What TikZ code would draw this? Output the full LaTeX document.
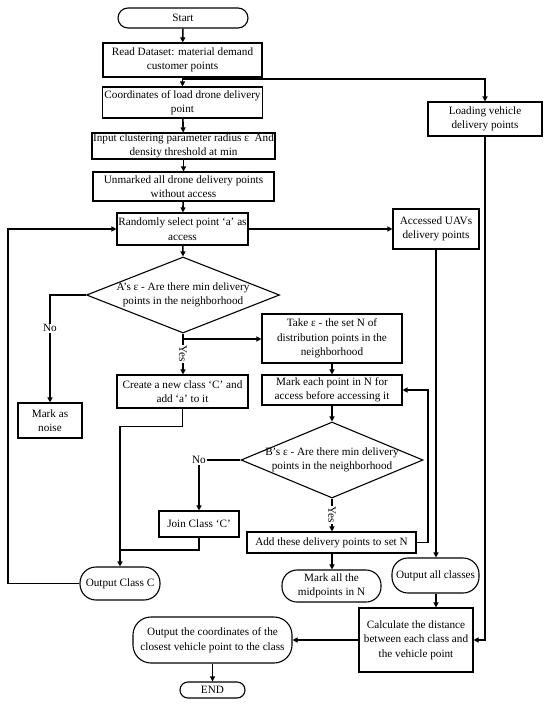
\documentclass[tikz,border=0pt]{standalone}
\usepackage{fontspec}
\setmainfont{Liberation Serif}
\usetikzlibrary{arrows.meta,shapes.geometric,calc}
\begin{document}
\begin{tikzpicture}[x=1pt,y=-1pt,
  every node/.style={font=\fontsize{11.2}{14.5}\selectfont},
  box/.style={draw,line width=1.1pt,inner sep=0pt,align=center},
  term/.style={box,rounded corners=#1},
  dia/.style={draw,line width=1.1pt,diamond,inner sep=0pt},
  conn/.style={line width=1.6pt},
  arr/.style={conn,-{Triangle[length=5pt,width=5pt]}},
  lbl/.style={fill=white,inner sep=1pt}]
\useasboundingbox (0,0) rectangle (550,706);
% nodes
\node[term=10pt,minimum width=130,minimum height=20] (start) at (183,18) {Start};
\node[box,minimum width=159,minimum height=34] (read) at (182.5,60) {Read Dataset: material demand\\customer points};
\node[box,minimum width=160,minimum height=31] (coord) at (182.5,102.5) {Coordinates of load drone delivery\\point};
\node[box,minimum width=183,minimum height=26] (input) at (183.5,146) {Input clustering parameter radius ε\ \ And\\density threshold at min};
\node[box,minimum width=181,minimum height=29] (unm) at (183.5,186.5) {Unmarked all drone delivery points\\without access};
\node[box,minimum width=131,minimum height=32] (rand) at (182.5,229) {Randomly select point ‘a’ as\\access};
\node[box,minimum width=114,minimum height=34] (load) at (485,119) {Loading vehicle\\delivery points};
\node[box,minimum width=86,minimum height=40] (acc) at (436,229) {Accessed UAVs\\delivery points};
\node[dia,minimum width=193,minimum height=76] (dA) at (183,295) {};
\node[align=center] at (183,295) {A’s ε - Are there min delivery\\points in the neighborhood};
\node[box,minimum width=64,minimum height=35] (noise) at (50,420.5) {Mark as\\noise};
\node[box,minimum width=131,minimum height=33] (create) at (182.5,391.5) {Create a new class ‘C’ and\\add ‘a’ to it};
\node[box,minimum width=140,minimum height=49] (take) at (332,338.5) {Take ε - the set N of\\distribution points in the\\neighborhood};
\node[box,minimum width=140,minimum height=30] (mark) at (332,390) {Mark each point in N for\\access before accessing it};
\node[dia,minimum width=182,minimum height=76] (dB) at (332,460) {};
\node[align=center] at (332,460) {B’s ε - Are there min delivery\\points in the neighborhood};
\node[box,minimum width=80,minimum height=26] (join) at (199,524) {Join Class ‘C’};
\node[box,minimum width=169,minimum height=21] (add) at (331.5,542.5) {Add these delivery points to set N};
\node[term=15pt,minimum width=99,minimum height=32] (markall) at (331.5,586) {Mark all the\\midpoints in N};
\node[term=16pt,minimum width=87,minimum height=35] (outall) at (435.5,575.5) {Output all classes};
\node[term=16pt,minimum width=80,minimum height=33] (outC) at (120,583.5) {Output Class C};
\node[box,minimum width=114,minimum height=64] (calc) at (416,640) {Calculate the distance\\between each class and\\the vehicle point};
\node[term=18pt,minimum width=159,minimum height=46] (outco) at (212.5,640) {Output the coordinates of the\\closest vehicle point to the class};
\node[term=8pt,minimum width=65,minimum height=16] (end) at (212.5,690) {END};
% helper coordinates
\coordinate (br) at (182.5,79);
\coordinate (yb) at (183,339);
\coordinate (nA) at (50,295);
\coordinate (nB) at (199,460);
\coordinate (addr) at (428,542.5);
\coordinate (loopL) at (8,583.5);
% connectors
\draw[arr] (start) -- (read);
\draw[arr] (read) -- (coord);
\draw[arr] (br) -| (load.north);
\draw[arr] (coord) -- (input);
\draw[arr] (input) -- (unm);
\draw[arr] (unm) -- (rand);
\draw[arr] (rand) -- (dA.north);
\draw[arr] (rand.east) -- (acc.west);
\draw[arr] (acc.south) -- (outall.north -| acc.south);
\draw[arr] (outall.south -| acc.south) -- (calc.north -| acc.south);
\draw[arr] (load.south) |- (calc.east);
\draw[arr] (calc.west) -- (outco.east);
\draw[arr] (outco) -- (end);
\draw[arr] (dA.west) -- (nA) -- (noise.north) node[lbl,pos=0.31] {No};
\draw[arr] (dA.south) -- (create.north -| dA.south) node[lbl,midway,rotate=-90,inner sep=0.5pt] {Yes};
\draw[arr] (yb) -- (yb -| take.west);
\draw[arr] (take) -- (mark);
\draw[arr] (mark) -- (dB.north);
\draw[arr] (dB.west) -- (nB) -- (join.north);
\node[lbl] at (nB) {No};
\draw[arr] (dB.south) -- (add.north -| dB.south) node[lbl,midway,rotate=-90,inner sep=0.5pt] {Yes};
\draw[arr] (add.east) -- (addr) |- (mark.east);
\draw[arr] (add.south -| dB.south) -- (markall.north -| dB.south);
\draw[arr] (create.south) -- ++(0,18) -| (outC.north);
\draw[conn] (join.south) |- (120,550);
\draw[arr] (outC.west) -- (loopL) |- (rand.west);
\end{tikzpicture}
\end{document}
